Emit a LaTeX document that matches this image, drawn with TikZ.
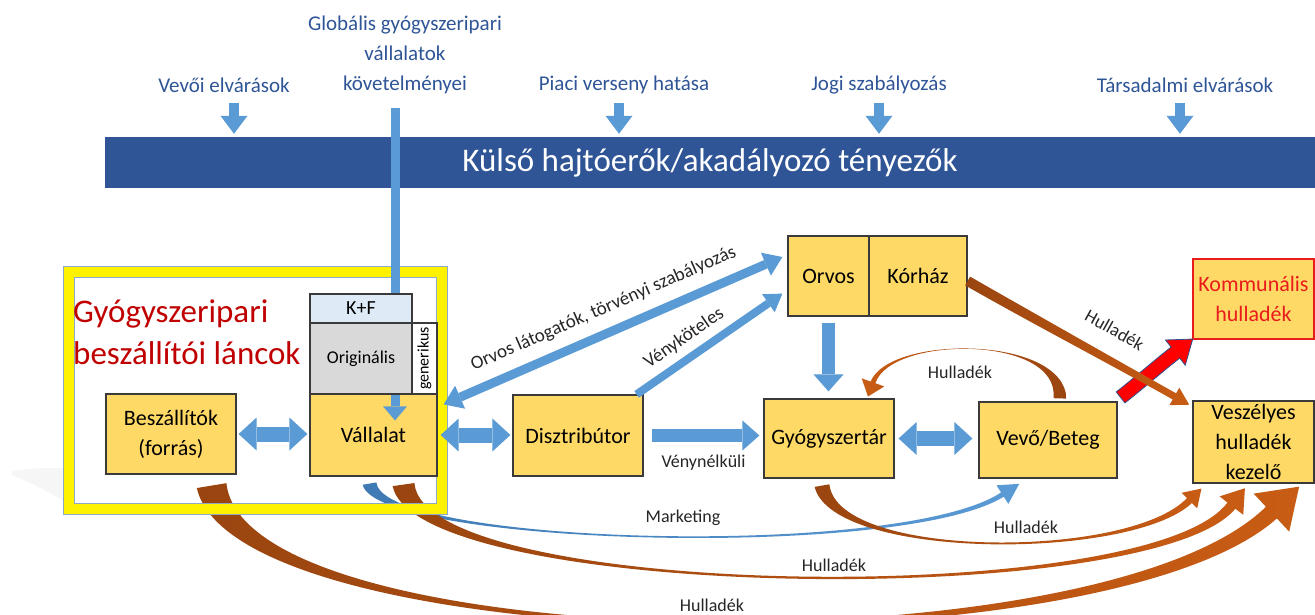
\documentclass[tikz,border=0pt]{standalone}
\usepackage{fontspec}
\setmainfont{Carlito}
\usetikzlibrary{arrows.meta,calc}
\definecolor{barblue}{HTML}{2F5597}
\definecolor{lblblue}{HTML}{2F5597}
\definecolor{arrowblue}{HTML}{5B9BD5}
\definecolor{blueD}{HTML}{3F7AB5}
\definecolor{boxfill}{HTML}{FFD966}
\definecolor{boxline}{HTML}{3A3A3A}
\definecolor{kfblue}{HTML}{DEEBF7}
\definecolor{origgray}{HTML}{D9D9D9}
\definecolor{brownD}{HTML}{9A4510}
\definecolor{brownL}{HTML}{C85C14}
\definecolor{titlered}{HTML}{C00000}
\definecolor{kommred}{HTML}{E81C1C}
\definecolor{framegray}{HTML}{8FA8C8}
\definecolor{labelgray}{HTML}{262626}
\definecolor{redoutline}{HTML}{2F528F}

\newcommand{\tafac}{0.3}
% #1 path options, #2 start, #3 start half width, #4 control 1, #5 control 2,
% #6 head base, #7 end half width, #8 head half width, #9 head length
\newcommand{\tapArrow}[9]{%
  \coordinate (ta-S) at #2;
  \coordinate (ta-A) at #4;
  \coordinate (ta-B) at #5;
  \coordinate (ta-E) at #6;
  \coordinate (ta-SL) at ($(ta-S)!#3!90:(ta-A)$);
  \coordinate (ta-SR) at ($(ta-S)!#3!-90:(ta-A)$);
  \coordinate (ta-SLc) at ($(ta-S)!\tafac*#3!90:(ta-A)$);
  \coordinate (ta-SRc) at ($(ta-S)!\tafac*#3!-90:(ta-A)$);
  \coordinate (ta-EL) at ($(ta-E)!#7!-90:(ta-B)$);
  \coordinate (ta-ER) at ($(ta-E)!#7!90:(ta-B)$);
  \coordinate (ta-ELc) at ($(ta-E)!\tafac*#7!-90:(ta-B)$);
  \coordinate (ta-ERc) at ($(ta-E)!\tafac*#7!90:(ta-B)$);
  \coordinate (ta-HL) at ($(ta-E)!#8!-90:(ta-B)$);
  \coordinate (ta-HR) at ($(ta-E)!#8!90:(ta-B)$);
  \coordinate (ta-T) at ($(ta-E)!-#9!(ta-B)$);
  \path[#1] (ta-SL) .. controls ($(ta-A)+(ta-SLc)-(ta-S)$) and ($(ta-B)+(ta-ELc)-(ta-E)$) .. (ta-EL)
     -- (ta-HL) -- (ta-T) -- (ta-HR) -- (ta-ER)
     .. controls ($(ta-B)+(ta-ERc)-(ta-E)$) and ($(ta-A)+(ta-SRc)-(ta-S)$) .. (ta-SR) -- cycle;
}

\begin{document}
\begin{tikzpicture}[x=1pt,y=-1pt,
  box/.style={draw=boxline, line width=1.2pt, fill=boxfill, inner sep=0pt, align=center,
    font=\fontsize{22}{30}\selectfont, text=black},
  toplbl/.style={text=lblblue, font=\fontsize{21}{30}\selectfont, align=center, inner sep=0pt},
  arrlbl/.style={text=labelgray, font=\fontsize{18}{22}\selectfont, inner sep=1pt},
  slbl/.style={text=labelgray, font=\fontsize{19}{22}\selectfont, inner sep=0pt},
  dblarrow/.style={draw=arrowblue, line width=15pt,
    {Triangle[width=33pt,length=18pt,line width=0pt]}-{Triangle[width=33pt,length=18pt,line width=0pt]}},
  sglarrow/.style={draw=arrowblue, line width=13pt,
    -{Triangle[width=30pt,length=17pt,line width=0pt]}},
  thinarrow/.style={draw=arrowblue, line width=9pt,
    {Triangle[width=25pt,length=18pt,line width=0pt]}-{Triangle[width=25pt,length=18pt,line width=0pt]}},
  venyarrow/.style={draw=arrowblue, line width=8pt,
    -{Triangle[width=22pt,length=17pt,line width=0pt]}},
  downarr/.style={draw=arrowblue, line width=10pt,
    -{Triangle[width=27pt,length=18pt,line width=0pt]}},
  globarr/.style={draw=arrowblue, line width=9pt,
    -{Triangle[width=24pt,length=14pt,line width=0pt]}},
  brownshade/.style={left color=brownD, right color=brownL},
  brownshadeR/.style={left color=brownL, right color=brownD}
]
\useasboundingbox (0,0) rectangle (1315,615);
\clip (0,0) rectangle (1315,615);
\fill[white] (0,0) rectangle (1315,615);

% faint shadow at left
\fill[gray!7] (12,471) .. controls (30,468) and (50,468) .. (63,468) -- (63,500)
  .. controls (45,490) and (25,480) .. (12,475) -- cycle;

% top labels
\node[toplbl] (lab1) at (224,85) {Vevői elvárások};
\node[toplbl] (glob) at (405,55) {Globális gyógyszeripari\\vállalatok\\követelményei};
\node[toplbl] (lab3) at (624,85) {Piaci verseny hatása};
\node[toplbl] (lab4) at (879,85) {Jogi szabályozás};
\node[toplbl] (lab5) at (1185,85) {Társadalmi elvárások};

% bar
\node[fill=barblue, minimum width=1210pt, minimum height=51pt, inner sep=0pt, text=white,
  font=\fontsize{33}{40}\selectfont] (bar) at (710,162.5) {Külső hajtóerők/akadályozó tényezők};

\foreach \xx in {234,619,879,1180}{
  \coordinate (dd) at (\xx,103);
  \draw[downarr, shorten >=3pt] (dd) -- (dd |- bar.north);
}

% boxes
\node[box, minimum width=130pt, minimum height=80pt] (besz) at (171,434) {Beszállítók\\(forrás)};
\node[box, minimum width=127pt, minimum height=82pt] (vall) at (373.5,435) {Vállalat};
\node[box, minimum width=130pt, minimum height=81pt] (disz) at (578,435.5) {Disztribútor};
\node[box, minimum width=81pt, minimum height=80pt] (orvos) at (828.5,276) {Orvos};
\node[box, minimum width=98pt, minimum height=80pt] (korhaz) at (918,276) {Kórház};
\node[box, minimum width=130pt, minimum height=79pt] (gyogy) at (829,438.5) {Gyógyszertár};
\node[box, minimum width=138pt, minimum height=76pt] (vevo) at (1048,440) {Vevő/Beteg};
\node[box, draw=kommred, text=kommred, minimum width=121pt, minimum height=80pt] (komm) at (1253.5,299) {Kommunális\\hulladék};
\node[box, minimum width=121pt, minimum height=82pt] (vesz) at (1253.5,442) {Veszélyes\\hulladék\\kezelő};

% long curved arrows from the bottom (behind the frame)
\tapArrow{left color=blueD, right color=arrowblue}{($(vall.south)+(-4,7)$)}{7pt}{(380,545)}{(900,560)}{($(vevo.south west)+(24,16)$)}{2.5pt}{11pt}{20pt}
\tapArrow{brownshade}{($(besz.south east)+(-25,11)$)}{15pt}{(240,657)}{(1100,673)}{($(vesz.south west)+(79,29)$)}{8pt}{26pt}{38pt}
\tapArrow{brownshade}{($(vall.south)+(30,8)$)}{11pt}{(420,600)}{(1150,610)}{($(vesz.south west)+(39,22)$)}{5pt}{15pt}{22pt}
\tapArrow{brownshade}{($(gyogy.south)+(-7,7)$)}{7.5pt}{(835,560)}{(1130,560)}{($(vesz.south west)+(-3,17)$)}{3.5pt}{11pt}{17pt}

% yellow frame
\draw[yellow, line width=11pt] (68.5,272) rectangle (442,508.5);
\draw[framegray, line width=0.8pt] (63,266.5) rectangle (447.5,514);
\draw[framegray, line width=0.8pt] (74,277.5) rectangle (436.5,503);
\node[box, minimum width=127pt, minimum height=82pt] at (vall) {Vállalat};

% global requirements arrow (behind K+F / Originális, over Vállalat)
\coordinate (gl1) at (glob.south |- vall.north);
\draw[globarr] ($(glob.south)+(-10,14)$) -- ($(gl1)+(-10,27)$);

% inner boxes of the company
\node[box, fill=kfblue, minimum width=102pt, minimum height=29pt, font=\fontsize{20}{24}\selectfont] (kf) at (361,308.5) {K+F};
\node[box, fill=origgray, minimum width=102pt, minimum height=71pt, font=\fontsize{18}{22}\selectfont] (orig) at (361,358.5) {Originális};
\node[box, fill=white, minimum width=71pt, minimum height=25pt, rotate=90, font=\fontsize{16}{18}\selectfont] (gen) at (424.5,358.5) {generikus};

% title
\node[anchor=north west, text=titlered, font=\fontsize{33}{42}\selectfont, align=left, inner sep=0pt]
  (title) at (73,300) {Gyógyszeripari\\beszállítói láncok};

% red arrow to communal waste, straight waste arrow from hospital
{\renewcommand{\tafac}{1}%
\tapArrow{fill=red, draw=redoutline, line width=0.8pt}{($(vevo.north east)+(3,-4)$)}{7pt}{(1139,383)}{(1157,367)}{($(komm.south west)+(-17,13)$)}{7pt}{16pt}{22pt}
\tapArrow{brownshade}{($(korhaz.east)+(0,5)$)}{5pt}{(1036,320)}{(1106,358)}{($(vesz.north west)+(-18,-4)$)}{3.5pt}{10pt}{17pt}
}
\path ($(korhaz.east)+(0,5)$) -- ($(vesz.north west)+(-3,4)$)
  node[arrlbl, pos=.6, sloped, above=21pt] {Hulladék};

% waste arc from customer back to pharmacy
\tapArrow{brownshadeR}{($(vevo.north)+(12,-3)$)}{6.5pt}{(1062,335)}{(890,335)}{($(gyogy.north)+(44,-16)$)}{2.5pt}{12pt}{15pt}

% blue block arrows
\draw[dblarrow, shorten <=2pt, shorten >=2pt] (besz.east) -- (besz.east -| vall.west);
\draw[dblarrow, shorten <=3pt, shorten >=2pt] (vall.east) -- (vall.east -| disz.west);
\draw[sglarrow, shorten <=8pt, shorten >=4pt] (disz.east) -- (disz.east -| gyogy.west)
  node[arrlbl, midway, below=12pt] {Vénynélküli};
\draw[dblarrow, shorten <=4pt, shorten >=6pt] (gyogy.east) -- (gyogy.east -| vevo.west);
\draw[sglarrow, shorten <=6pt, shorten >=7pt] (orvos.south) -- (orvos.south |- gyogy.north);
\draw[thinarrow] ($(vall.north east)+(6,11)$) -- ($(orvos.west)+(-5,-19)$)
  node[slbl, pos=.5, sloped, above=11pt] {Orvos látogatók, törvényi szabályozás};
\draw[venyarrow] ($(disz.north east)+(-7,0)$) -- ($(orvos.south west)+(-5,-23)$)
  node[slbl, pos=.4, sloped, above=7pt] {Vényköteles};

% labels of the waste / marketing flows
\node[arrlbl] at (960,372) {Hulladék};
\node[arrlbl] at (683,518) {Marketing};
\node[arrlbl] at (1026,527) {Hulladék};
\node[arrlbl] at (834,565) {Hulladék};
\node[arrlbl] at (712,605) {Hulladék};

\end{tikzpicture}
\end{document}
